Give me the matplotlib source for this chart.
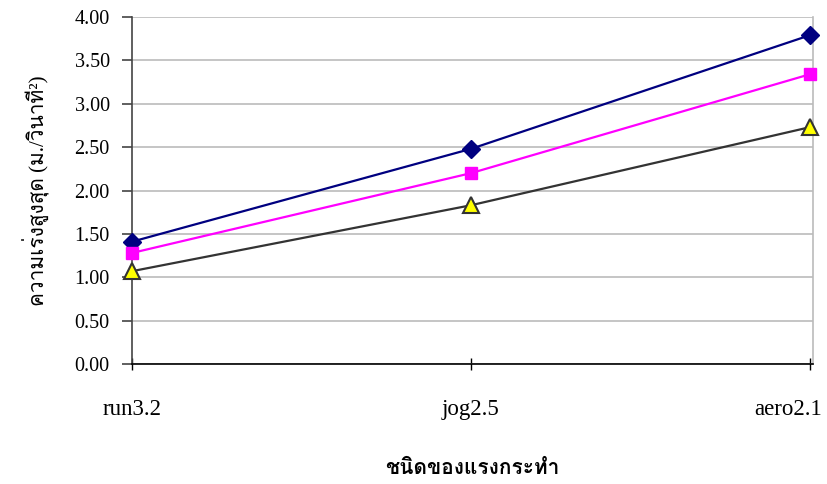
import matplotlib
matplotlib.use("Agg")
import matplotlib.pyplot as plt
from matplotlib import font_manager

# Data
categories = ["run3.2", "jog2.5", "aero2.1"]
series_diamond = [1.41, 2.48, 3.79]
series_square = [1.28, 2.20, 3.34]
series_triangle = [1.07, 1.83, 2.73]
y_ticks = [0.0, 0.5, 1.0, 1.5, 2.0, 2.5, 3.0, 3.5, 4.0]
x_title = "ชนิดของแรงกระทำ"
y_title = "ความเร่งสูงสุด (ม./วินาที²)"


def thai_family():
    """Pick an installed family that has Thai glyphs."""
    try:
        from fontTools.ttLib import TTFont
    except Exception:
        return None
    found = []
    for f in font_manager.fontManager.ttflist:
        try:
            tt = TTFont(f.fname, fontNumber=0, lazy=True)
            cmap = tt.getBestCmap()
            if cmap and 0x0E01 in cmap and 0x0E33 in cmap:
                found.append(f.name)
        except Exception:
            pass
    for pref in ("Loma", "Garuda", "Norasi", "TlwgTypo", "Noto Serif Thai", "Noto Sans Thai"):
        if pref in found:
            return pref
    return found[0] if found else None


th = thai_family()
families = ["Liberation Serif"] + ([th] if th else []) + ["DejaVu Sans"]
plt.rcParams["font.family"] = families

fig = plt.figure(figsize=(8.27, 4.84), dpi=100)
ax = fig.add_axes([0.1596, 0.2479, 0.983 - 0.1596, 0.9649 - 0.2479])

x = list(range(len(categories)))
ax.plot(x, series_diamond, color="#000080", lw=1.6, marker="D", ms=9,
        mfc="#000080", mec="#000080", zorder=4, clip_on=False)
ax.plot(x, series_square, color="#FF00FF", lw=1.6, marker="s", ms=8.5,
        mfc="#FF00FF", mec="#FF00FF", zorder=4, clip_on=False)
ax.plot(x, series_triangle, color="#333333", lw=1.6, marker="^", ms=11,
        mfc="#FFFF00", mec="#333333", mew=1.5, zorder=4, clip_on=False)

ax.set_ylim(0, 4)
ax.set_xlim(0, 2 + 3 / 339)
ax.set_yticks(y_ticks)
ax.set_yticklabels([f"{v:.2f}" for v in y_ticks], fontsize=14.5)
ax.set_xticks(x)

# category labels; the last one is right-aligned so it stays inside the figure
xlabels = categories[:-1] + [""]
ax.set_xticklabels(xlabels, fontsize=16.5)
ax.annotate(categories[-1], xy=(x[-1], 0), xycoords=ax.get_xaxis_transform(),
            xytext=(8.6, -25.5), textcoords="offset points",
            ha="right", va="top", fontsize=16.5, annotation_clip=False)

ax.yaxis.grid(True, color="#BBBBBB", lw=1.2)
ax.set_axisbelow(True)

ax.spines["top"].set_visible(False)
ax.spines["right"].set_color("#BBBBBB")
ax.spines["right"].set_linewidth(1.2)
ax.spines["left"].set_color("#444444")
ax.spines["left"].set_linewidth(1.2)
ax.spines["bottom"].set_color("#000000")
ax.spines["bottom"].set_linewidth(1.2)

ax.tick_params(axis="y", direction="out", length=7, width=1.2, color="#444444", pad=9)
ax.tick_params(axis="x", direction="inout", length=9, width=1.0, color="#000000", pad=21)

ax.set_xlabel(x_title, fontsize=15, fontweight="bold", labelpad=28)
ax.set_ylabel(y_title, fontsize=15, labelpad=18)

fig.savefig("out.png", dpi=100)
